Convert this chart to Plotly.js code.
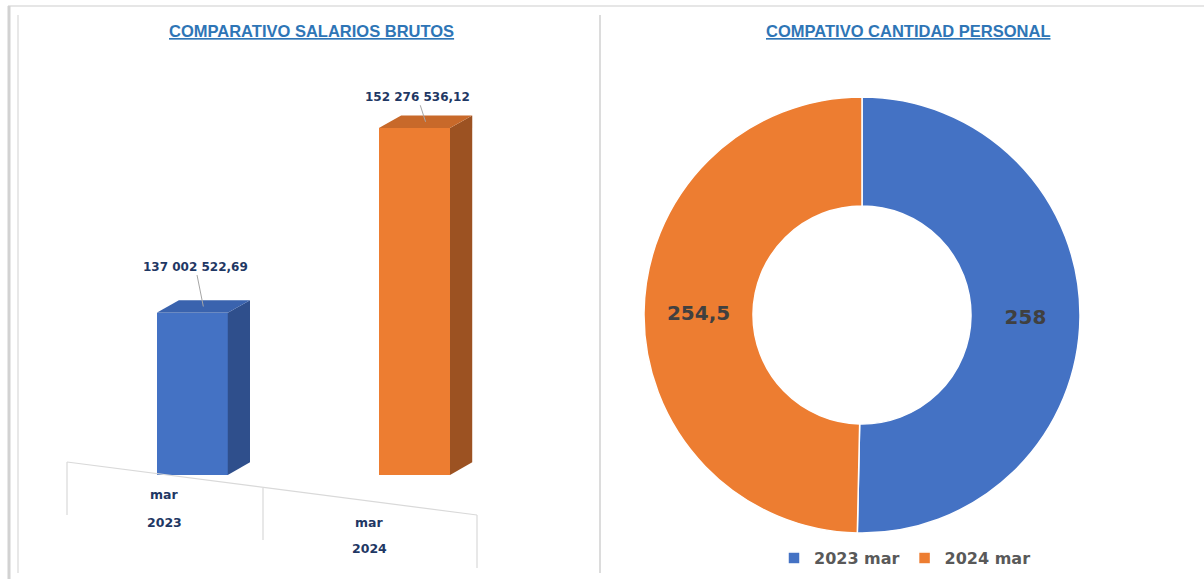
<!DOCTYPE html>
<html>
<head>
<meta charset="utf-8">
<script src="https://cdn.plot.ly/plotly-3.0.1.min.js"></script>
<style>
html,body{margin:0;padding:0;background:#ffffff;}
#chart{width:1204px;height:579px;}
</style>
</head>
<body>
<div id="chart"></div>
<script>
// ---- Data ----
const barCategories = ["2023", "2024"];
const barMonths = ["mar", "mar"];
const barValues = [137002522.69, 152276536.12];
const barColors = ["#4472C4", "#ED7D31"];
const barSideColors = ["#2F4F8C", "#9C5222"];
const barTopColors = ["#3A63AE", "#C8692A"];

const pieLabels = ["2023 mar", "2024 mar"];
const pieValues = [258, 254.5];
const pieColors = ["#4472C4", "#ED7D31"];

const title1 = "COMPARATIVO SALARIOS BRUTOS";
const title2 = "COMPATIVO CANTIDAD PERSONAL";

// ---- Helpers ----
const W = 1204, H = 579;
const px = v => v / W;
const py = v => 1 - v / H;

const barX = barCategories.map((c, i) => i);
const barWidth = 0.32;
const depthX = 0.1;      // depth offset in category units (style)
const depthY = 1.05e6;   // depth offset in value units (style)
const yMin = 123.6e6, yMax = 154.6e6;

const traces = [];
traces.push({
  type: "bar",
  x: barX,
  y: barValues,
  width: barWidth,
  marker: {color: barColors, line: {width: 0}},
  xaxis: "x", yaxis: "y",
  showlegend: false,
  hoverinfo: "y"
});

const boldFam = "DejaVu Sans, Verdana, sans-serif";

traces.push({
  type: "pie",
  labels: pieLabels,
  values: pieValues,
  hole: 0.5,
  sort: false,
  direction: "clockwise",
  rotation: 0,
  marker: {colors: pieColors, line: {color: "#ffffff", width: 1.5}},
  textinfo: "value",
  texttemplate: "%{value}",
  textposition: "inside",
  insidetextorientation: "horizontal",
  textfont: {family: boldFam, size: 20, color: "#404040", weight: "bold"},
  domain: {x: [px(644), px(1080)], y: [py(533), py(97)]},
  showlegend: true
});

const shapes = [];
// 3D faces of bars, derived from data values
barValues.forEach((v, i) => {
  const xl = barX[i] - barWidth / 2, xr = barX[i] + barWidth / 2;
  shapes.push({
    type: "path", xref: "x", yref: "y", layer: "above",
    path: `M ${xr},${yMin} L ${xr + depthX},${yMin + depthY} L ${xr + depthX},${v + depthY} L ${xr},${v} Z`,
    fillcolor: barSideColors[i], line: {width: 0}
  });
  shapes.push({
    type: "path", xref: "x", yref: "y", layer: "above",
    path: `M ${xl},${v} L ${xl + depthX},${v + depthY} L ${xr + depthX},${v + depthY} L ${xr},${v} Z`,
    fillcolor: barTopColors[i], line: {width: 0}
  });
});

// panel frame lines (decoration)
shapes.push({type: "line", xref: "paper", yref: "paper", x0: px(8), x1: 1, y0: py(6), y1: py(6), line: {color: "#e6e6e6", width: 2}});
shapes.push({type: "line", xref: "paper", yref: "paper", x0: px(9), x1: px(9), y0: py(6), y1: 0, line: {color: "#d2d2d2", width: 3}});
shapes.push({type: "line", xref: "paper", yref: "paper", x0: px(18), x1: px(18), y0: py(15), y1: py(573), line: {color: "#e8e8e8", width: 2}});
shapes.push({type: "line", xref: "paper", yref: "paper", x0: px(600), x1: px(600), y0: py(15), y1: py(573), line: {color: "#dcdcdc", width: 2}});

// category "table" axis lines (decoration)
const axCol = "#d9d9d9";
shapes.push({type: "line", xref: "paper", yref: "paper", x0: px(67), y0: py(462), x1: px(477), y1: py(515), line: {color: axCol, width: 1.2}});
shapes.push({type: "line", xref: "paper", yref: "paper", x0: px(67), y0: py(462), x1: px(67), y1: py(515), line: {color: axCol, width: 1.2}});
shapes.push({type: "line", xref: "paper", yref: "paper", x0: px(263), y0: py(488), x1: px(263), y1: py(540), line: {color: axCol, width: 1.2}});
shapes.push({type: "line", xref: "paper", yref: "paper", x0: px(477), y0: py(515), x1: px(477), y1: py(568), line: {color: axCol, width: 1.2}});

const annotations = [];
const titleFont = {family: "Liberation Sans, Arial, sans-serif", size: 16.5, color: "#2E75B6", weight: "bold"};
annotations.push({text: "<u>" + title1 + "</u>", xref: "paper", yref: "paper", x: px(311), y: py(31), showarrow: false, font: titleFont, xanchor: "center", yanchor: "middle"});
annotations.push({text: "<u>" + title2 + "</u>", xref: "paper", yref: "paper", x: px(908), y: py(31), showarrow: false, font: titleFont, xanchor: "center", yanchor: "middle"});

// value labels with leader lines
const labelFont = {family: boldFam, size: 12, color: "#1F3864", weight: "bold"};
const fmt = v => {
  const parts = v.toFixed(2).split(".");
  return parts[0].replace(/\B(?=(\d{3})+(?!\d))/g, " ") + "," + parts[1];
};
const labelOffsets = [-40, -25];
barValues.forEach((v, i) => {
  annotations.push({
    text: fmt(v), xref: "x", yref: "y", x: barX[i] + depthX / 2, y: v + depthY / 2,
    showarrow: true, arrowhead: 0, arrowwidth: 1, arrowcolor: "#a6a6a6",
    ax: -8, ay: labelOffsets[i], font: labelFont, standoff: 0, startstandoff: 0
  });
});

// category labels (two rows)
const tickFont = {family: boldFam, size: 12.5, color: "#1F3864", weight: "bold"};
const monthY = [494, 522];
const yearY = [522, 548];
const catX = [164, 369];
barCategories.forEach((c, i) => {
  annotations.push({text: barMonths[i], xref: "paper", yref: "paper", x: px(catX[i]), y: py(monthY[i]), xanchor: "center", yanchor: "middle", showarrow: false, font: tickFont});
  annotations.push({text: c, xref: "paper", yref: "paper", x: px(catX[i]), y: py(yearY[i]), xanchor: "center", yanchor: "middle", showarrow: false, font: tickFont});
});

const layout = {
  width: W, height: H,
  margin: {l: 0, r: 0, t: 0, b: 0},
  paper_bgcolor: "#ffffff",
  plot_bgcolor: "rgba(0,0,0,0)",
  separators: ", ",
  xaxis: {
    domain: [px(70), px(530)],
    range: [-0.55, 1.52],
    showgrid: false, zeroline: false, showline: false, showticklabels: false, ticks: ""
  },
  yaxis: {
    domain: [py(475), py(100)],
    range: [yMin, yMax],
    showgrid: false, zeroline: false, showline: false, showticklabels: false, ticks: ""
  },
  bargap: 0,
  shapes: shapes,
  annotations: annotations,
  legend: {
    orientation: "h",
    x: px(905), xanchor: "center",
    y: py(558), yanchor: "middle",
    font: {family: boldFam, size: 16, color: "#595959", weight: "bold"},
    itemwidth: 30,
    traceorder: "normal"
  },
  showlegend: true
};

Plotly.newPlot("chart", traces, layout, {displayModeBar: false, staticPlot: true});
</script>
</body>
</html>
